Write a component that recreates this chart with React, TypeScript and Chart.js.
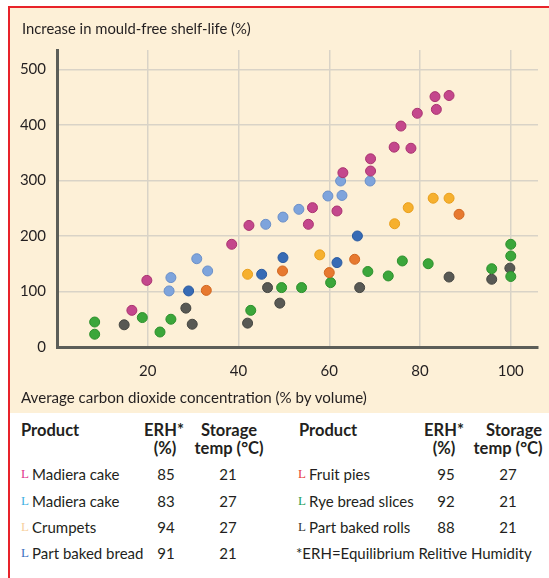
import React, { useEffect, useRef } from "react";
import { Chart, registerables } from "chart.js";

Chart.register(...registerables);

// ---- axis ticks ----
const xTickValues = [20, 40, 60, 80, 100];
const yTickValues = [0, 100, 200, 300, 400, 500];

// ---- series: [CO2 %, increase in mould-free shelf-life %] ----
const madieraCake85: [number, number][] = [
  [16.5, 66], [19.8, 120], [38.5, 185], [42.3, 219], [55.4, 221], [56.3, 251],
  [61.7, 245], [63, 314], [69.1, 317], [69.1, 339], [74.3, 360], [75.8, 398],
  [78, 358], [79.4, 421], [83.6, 428], [83.3, 451], [86.4, 453],
];
const madieraCake83: [number, number][] = [
  [24.7, 101], [25.1, 125], [30.8, 159], [33.2, 137], [46, 221], [49.8, 234],
  [53.3, 248], [59.7, 272], [62.8, 273], [62.5, 299], [69, 299],
];
const crumpets: [number, number][] = [
  [42, 131], [57.9, 166], [74.4, 222], [77.4, 251], [82.9, 268], [86.4, 268],
];
const partBakedBread: [number, number][] = [
  [29, 101], [45.1, 131], [49.8, 161], [61.7, 152], [66.2, 200],
];
const fruitPies: [number, number][] = [
  [32.9, 102], [49.7, 137], [60, 134], [65.6, 158], [88.6, 239],
];
const ryeBreadSlices: [number, number][] = [
  [8.3, 45], [8.3, 23], [18.8, 53], [22.7, 27], [25.1, 50], [42.7, 66],
  [49.5, 107], [53.9, 107], [60.3, 116], [68.5, 136], [73, 128], [76.1, 155],
  [81.8, 150], [95.8, 141], [100, 185], [100, 164], [100, 127],
];
const partBakedRolls: [number, number][] = [
  [14.8, 40], [28.4, 70], [29.8, 41], [42, 43], [46.4, 107], [49.1, 79],
  [66.7, 107], [86.4, 126], [95.8, 122], [99.8, 142],
];

// ---- table ----
const leftProducts = ["Madiera cake", "Madiera cake", "Crumpets", "Part baked bread"];
const leftErh = ["85", "83", "94", "91"];
const leftTemp = ["21", "27", "27", "21"];
const leftMarkColors = ["#e2338c", "#3fb1e3", "#f7cf9c", "#3b6fc0"];
const rightProducts = ["Fruit pies", "Rye bread slices", "Part baked rolls"];
const rightErh = ["95", "92", "88"];
const rightTemp = ["27", "21", "21"];
const rightMarkColors = ["#e8403a", "#25a05a", "#333333"];
const footnote = "*ERH=Equilibrium Relitive Humidity";

const seriesList = [
  { data: madieraCake85, color: "#c4478c", edge: "#a9336f" },
  { data: madieraCake83, color: "#7ea4dc", edge: "#6a8fc8" },
  { data: crumpets, color: "#f6b02e", edge: "#e89e1c" },
  { data: partBakedBread, color: "#376bb5", edge: "#2a5aa0" },
  { data: fruitPies, color: "#e7792f", edge: "#d0661f" },
  { data: ryeBreadSlices, color: "#3ba63a", edge: "#2c8f2c" },
  { data: partBakedRolls, color: "#585954", edge: "#454641" },
];

const FONT = "Lato, 'Open Sans', sans-serif";
const TEXT = "#231f20";

function ScatterChart() {
  const ref = useRef<HTMLCanvasElement | null>(null);
  useEffect(() => {
    if (!ref.current) return;
    const chart = new Chart(ref.current, {
      type: "scatter",
      data: {
        datasets: seriesList.map((s) => ({
          data: s.data.map(([x, y]) => ({ x, y })),
          backgroundColor: s.color,
          borderColor: s.edge,
          borderWidth: 1,
          pointRadius: 5,
          pointHoverRadius: 5,
        })),
      },
      options: {
        animation: false,
        responsive: false,
        maintainAspectRatio: false,
        layout: { padding: { top: 42, right: 11, left: 0, bottom: 0 } },
        plugins: { legend: { display: false }, tooltip: { enabled: false } },
        scales: {
          x: {
            type: "linear",
            min: 0,
            max: 106,
            afterBuildTicks: (s: any) => {
              s.ticks = xTickValues.map((v) => ({ value: v }));
            },
            afterFit: (s: any) => {
              s.height = 65;
            },
            ticks: {
              padding: 15,
              maxRotation: 0,
              autoSkip: false,
              color: TEXT,
              font: { family: FONT, size: 15 },
            },
            grid: { color: "#d9d3c7", lineWidth: 1.5, drawTicks: false },
            border: { color: "#5c5e58", width: 3 },
          },
          y: {
            type: "linear",
            min: 0,
            max: 535,
            afterBuildTicks: (s: any) => {
              s.ticks = yTickValues.map((v) => ({ value: v }));
            },
            afterFit: (s: any) => {
              s.width = 47;
            },
            ticks: {
              padding: 11,
              color: TEXT,
              font: { family: FONT, size: 15 },
            },
            grid: { color: "#d9d3c7", lineWidth: 1.5, drawTicks: false },
            border: { color: "#5c5e58", width: 3 },
          },
        },
      },
    });
    return () => chart.destroy();
  }, []);
  return <canvas ref={ref} width={539} height={404} style={{ display: "block" }} />;
}

const abs = (left: number, top: number, extra: React.CSSProperties = {}): React.CSSProperties => ({
  position: "absolute",
  left,
  top,
  ...extra,
});

function Cell({ text, cx, cy, bold }: { text: string; cx: number; cy: number; bold?: boolean }) {
  return (
    <div
      style={abs(cx - 60, cy - 10, {
        width: 120,
        textAlign: "center",
        lineHeight: "20px",
        fontWeight: bold ? 700 : 400,
        fontSize: bold ? 16.5 : 15,
        whiteSpace: "nowrap",
      })}
    >
      {text}
    </div>
  );
}

function Row({ mark, name, erh, temp, cy, x0, erhX, tempX }: any) {
  return (
    <>
      <div
        style={abs(x0, cy - 10, {
          lineHeight: "20px",
          color: mark,
          fontFamily: "'Liberation Serif', serif",
          fontSize: 13,
        })}
      >
        L
      </div>
      <div style={abs(x0 + 11, cy - 10, { lineHeight: "20px", whiteSpace: "nowrap", fontSize: 15 })}>
        {name}
      </div>
      <Cell text={erh} cx={erhX} cy={cy} />
      <Cell text={temp} cx={tempX} cy={cy} />
    </>
  );
}

export default function App() {
  const rowY = [474, 501, 527, 553];
  return (
    <div
      style={{
        position: "absolute",
        left: 0,
        top: 0,
        width: 549,
        height: 578,
        background: "#ffffff",
        overflow: "hidden",
        fontFamily: FONT,
        fontSize: 15,
        color: TEXT,
      }}
    >
      <div style={abs(8, 6, { width: 541, height: 2, background: "#e8232a" })} />
      <div style={abs(8, 6, { width: 2, height: 572, background: "#e8232a" })} />
      <div style={abs(10, 8, { width: 539, height: 405, background: "#fdf0d7" })}>
        <ScatterChart />
      </div>
      <div style={abs(22, 18, { lineHeight: "20px", fontSize: 14.8, whiteSpace: "nowrap" })}>
        Increase in mould-free shelf-life (%)
      </div>
      <div style={abs(21, 387, { lineHeight: "20px", fontSize: 15.1, whiteSpace: "nowrap" })}>
        Average carbon dioxide concentration (% by volume)
      </div>

      {/* headers */}
      <div style={abs(21, 420, { lineHeight: "20px", fontWeight: 700, fontSize: 16.5 })}>Product</div>
      <Cell text="ERH*" cx={164} cy={430} bold />
      <Cell text="(%)" cx={165} cy={448} bold />
      <Cell text="Storage" cx={229} cy={430} bold />
      <Cell text="temp (°C)" cx={229} cy={448} bold />
      <div style={abs(299, 420, { lineHeight: "20px", fontWeight: 700, fontSize: 16.5 })}>Product</div>
      <Cell text="ERH*" cx={444} cy={430} bold />
      <Cell text="(%)" cx={444} cy={448} bold />
      <Cell text="Storage" cx={514} cy={430} bold />
      <Cell text="temp (°C)" cx={508} cy={448} bold />

      {leftProducts.map((p, i) => (
        <Row
          key={"l" + i}
          mark={leftMarkColors[i]}
          name={p}
          erh={leftErh[i]}
          temp={leftTemp[i]}
          cy={rowY[i]}
          x0={21}
          erhX={166}
          tempX={228}
        />
      ))}
      {rightProducts.map((p, i) => (
        <Row
          key={"r" + i}
          mark={rightMarkColors[i]}
          name={p}
          erh={rightErh[i]}
          temp={rightTemp[i]}
          cy={rowY[i]}
          x0={298}
          erhX={446}
          tempX={508}
        />
      ))}
      <div style={abs(296, rowY[3] - 10, { lineHeight: "20px", whiteSpace: "nowrap", fontSize: 15 })}>
        {footnote}
      </div>
    </div>
  );
}
